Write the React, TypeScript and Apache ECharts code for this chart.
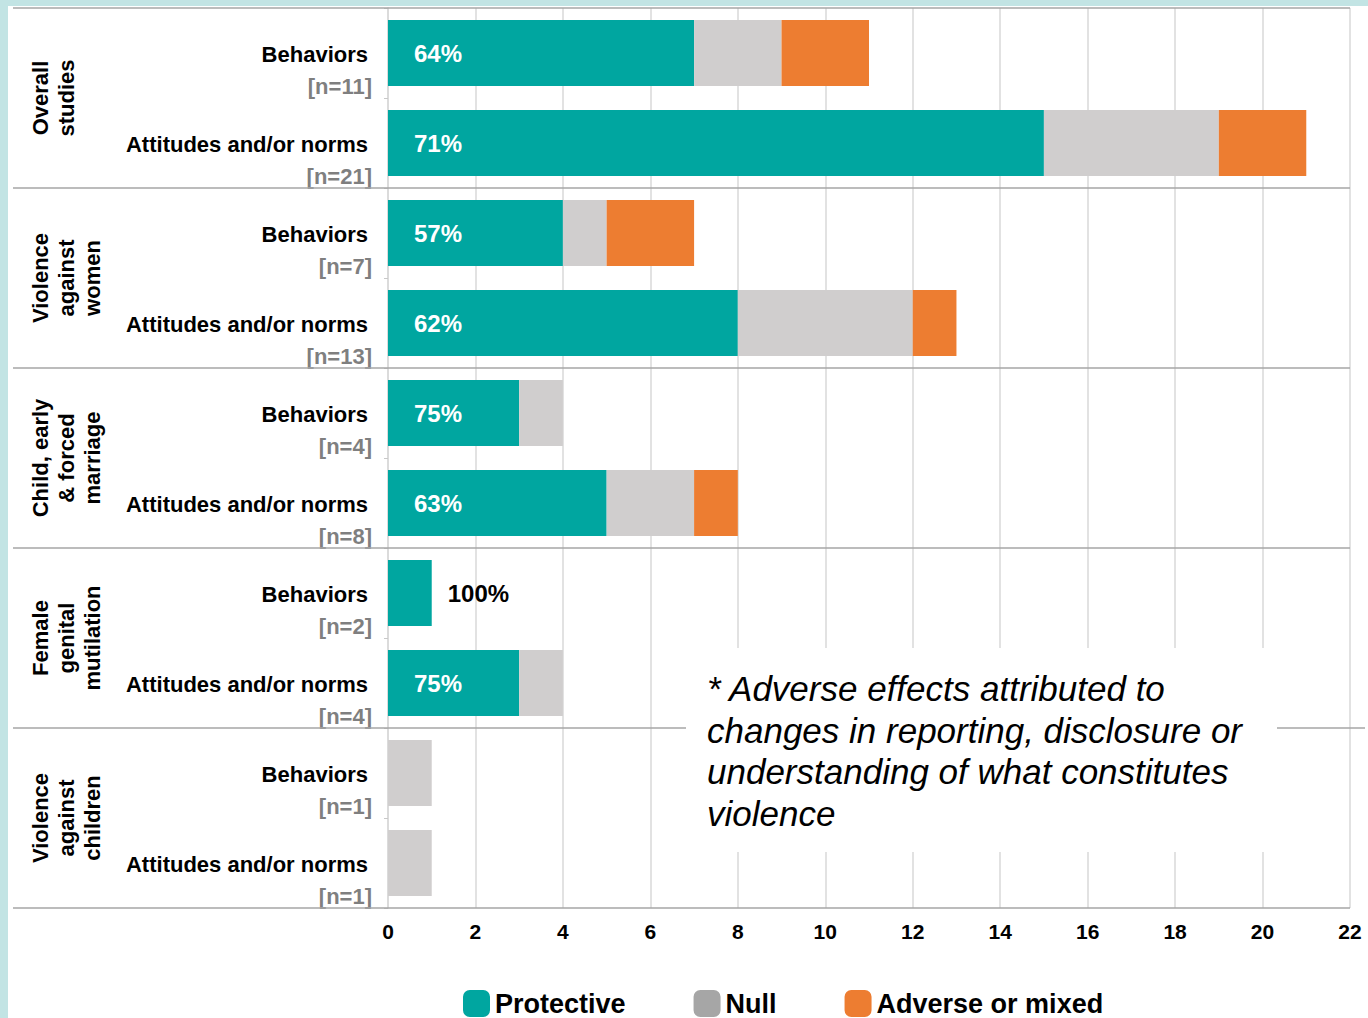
import React, { useEffect, useRef } from "react";
import * as echarts from "echarts";

const categories = [
  "Behaviors", "Attitudes and/or norms",
  "Behaviors", "Attitudes and/or norms",
  "Behaviors", "Attitudes and/or norms",
  "Behaviors", "Attitudes and/or norms",
  "Behaviors", "Attitudes and/or norms",
];
const sampleSizes = ["[n=11]", "[n=21]", "[n=7]", "[n=13]", "[n=4]", "[n=8]", "[n=2]", "[n=4]", "[n=1]", "[n=1]"];
const groups = [
  "Overall\nstudies",
  "Violence\nagainst\nwomen",
  "Child, early\n& forced\nmarriage",
  "Female\ngenital\nmutilation",
  "Violence\nagainst\nchildren",
];
const protective = [7, 15, 4, 8, 3, 5, 1, 3, 0, 0];
const nullEffect = [2, 4, 1, 4, 1, 2, 0, 1, 1, 1];
const adverse = [2, 2, 2, 1, 0, 1, 0, 0, 0, 0];
const protectiveShare = ["64%", "71%", "57%", "62%", "75%", "63%", "100%", "75%", "", ""];
const xTicks = { min: 0, max: 22, interval: 2 };
const note = "* Adverse effects attributed to\nchanges in reporting, disclosure or\nunderstanding of what constitutes\nviolence";

const FONT = "'Liberation Sans', Arial, Helvetica, sans-serif";
const TEAL = "#00a6a0";
const GREY = "#d0cece";
const ORANGE = "#ed7d31";

export default function App() {
  const ref = useRef<HTMLDivElement>(null);
  useEffect(() => {
    document.body.style.margin = "0";
    const chart = echarts.init(ref.current!, null, { renderer: "svg" });
    const protData = protective.map((v, i) => {
      const lbl = protectiveShare[i];
      if (!lbl) return { value: v, label: { show: false } };
      if (v < 2)
        return {
          value: v,
          label: { show: true, formatter: lbl, position: "right", distance: 16, color: "#000" },
        };
      return { value: v, label: { show: true, formatter: lbl } };
    });
    chart.setOption({
      animation: false,
      textStyle: { fontFamily: FONT },
      grid: { left: 388, right: 18, top: 8, bottom: 110, containLabel: false },
      legend: {
        left: 458,
        top: 985,
        itemWidth: 27,
        itemHeight: 27,
        itemGap: 68,
        icon: "roundRect",
        textStyle: { fontSize: 27, fontWeight: "bold", color: "#000", fontFamily: FONT },
        data: [
          { name: "Protective", itemStyle: { color: TEAL } },
          { name: "Null", itemStyle: { color: "#a6a6a6" } },
          { name: "Adverse or mixed", itemStyle: { color: ORANGE } },
        ],
      },
      xAxis: {
        type: "value",
        min: xTicks.min,
        max: xTicks.max,
        interval: xTicks.interval,
        axisLine: { show: false },
        axisTick: { show: false },
        splitLine: { show: true, lineStyle: { color: "#d9d9d9", width: 1.5 } },
        axisLabel: { fontSize: 21, fontWeight: "bold", color: "#000", margin: 13, fontFamily: FONT },
      },
      yAxis: {
        type: "category",
        inverse: true,
        data: categories,
        axisLine: { show: true, lineStyle: { color: "#d9d9d9", width: 1.5 } },
        axisTick: { show: true, length: 4, lineStyle: { color: "#c8c8c8" } },
        axisLabel: {
          interval: 0,
          margin: 16,
          padding: [34, 0, 0, 0],
          formatter: (v: string, i: number) => `{a|${v}}\n{b|${sampleSizes[i]}}`,
          rich: {
            a: { fontSize: 22, fontWeight: "bold", color: "#000", lineHeight: 32, padding: [0, 4, 0, 0], fontFamily: FONT },
            b: { fontSize: 22, fontWeight: "bold", color: "#7f7f7f", lineHeight: 32, fontFamily: FONT },
          },
        },
      },
      series: [
        {
          name: "Protective",
          type: "bar",
          stack: "total",
          barWidth: 66,
          itemStyle: { color: TEAL },
          label: {
            show: false,
            position: "insideLeft",
            distance: 26,
            color: "#fff",
            fontSize: 24,
            fontWeight: "bold",
            fontFamily: FONT,
          },
          data: protData,
        },
        { name: "Null", type: "bar", stack: "total", barWidth: 66, itemStyle: { color: GREY }, data: nullEffect },
        { name: "Adverse or mixed", type: "bar", stack: "total", barWidth: 66, itemStyle: { color: ORANGE }, data: adverse },
      ],
    });

    const c0 = chart.convertToPixel({ yAxisIndex: 0 }, 0) as number;
    const c1 = chart.convertToPixel({ yAxisIndex: 0 }, 1) as number;
    const step = c1 - c0;
    const top = c0 - step / 2;
    const xRight = chart.convertToPixel({ xAxisIndex: 0 }, xTicks.max) as number;
    const graphic: any[] = [];
    for (let k = 0; k <= groups.length; k++) {
      const y = top + k * 2 * step;
      graphic.push({
        type: "line",
        z: 50,
        shape: { x1: 13, y1: y, x2: k === 4 ? 1365 : xRight, y2: y },
        style: { stroke: "#a6a6a6", lineWidth: 1.5 },
      });
    }
    groups.forEach((g, k) => {
      const yc = top + (k * 2 + 1) * step;
      graphic.push({
        type: "text",
        z: 60,
        x: 27,
        y: yc,
        rotation: Math.PI / 2,
        style: {
          text: g,
          fontSize: 22,
          fontWeight: "bold",
          fontFamily: FONT,
          fill: "#000",
          align: "center",
          verticalAlign: "top",
          lineHeight: 26,
        },
      });
    });
    graphic.push({
      type: "rect",
      z: 100,
      shape: { x: 686, y: 648, width: 591, height: 204 },
      style: { fill: "#fff" },
    });
    graphic.push({
      type: "text",
      z: 101,
      x: 707,
      y: 668,
      style: {
        text: note,
        fontSize: 35,
        fontStyle: "italic",
        fontFamily: FONT,
        fill: "#000",
        align: "left",
        verticalAlign: "top",
        lineHeight: 41.5,
      },
    });
    chart.setOption({ graphic });
    return () => chart.dispose();
  }, []);

  return (
    <div style={{ position: "relative", width: 1368, height: 1018, background: "#c2e4e4", overflow: "hidden" }}>
      <div style={{ position: "absolute", left: 8, top: 6, right: 0, bottom: 0, background: "#fff" }} />
      <div ref={ref} style={{ position: "absolute", left: 0, top: 0, width: 1368, height: 1018 }} />
    </div>
  );
}
